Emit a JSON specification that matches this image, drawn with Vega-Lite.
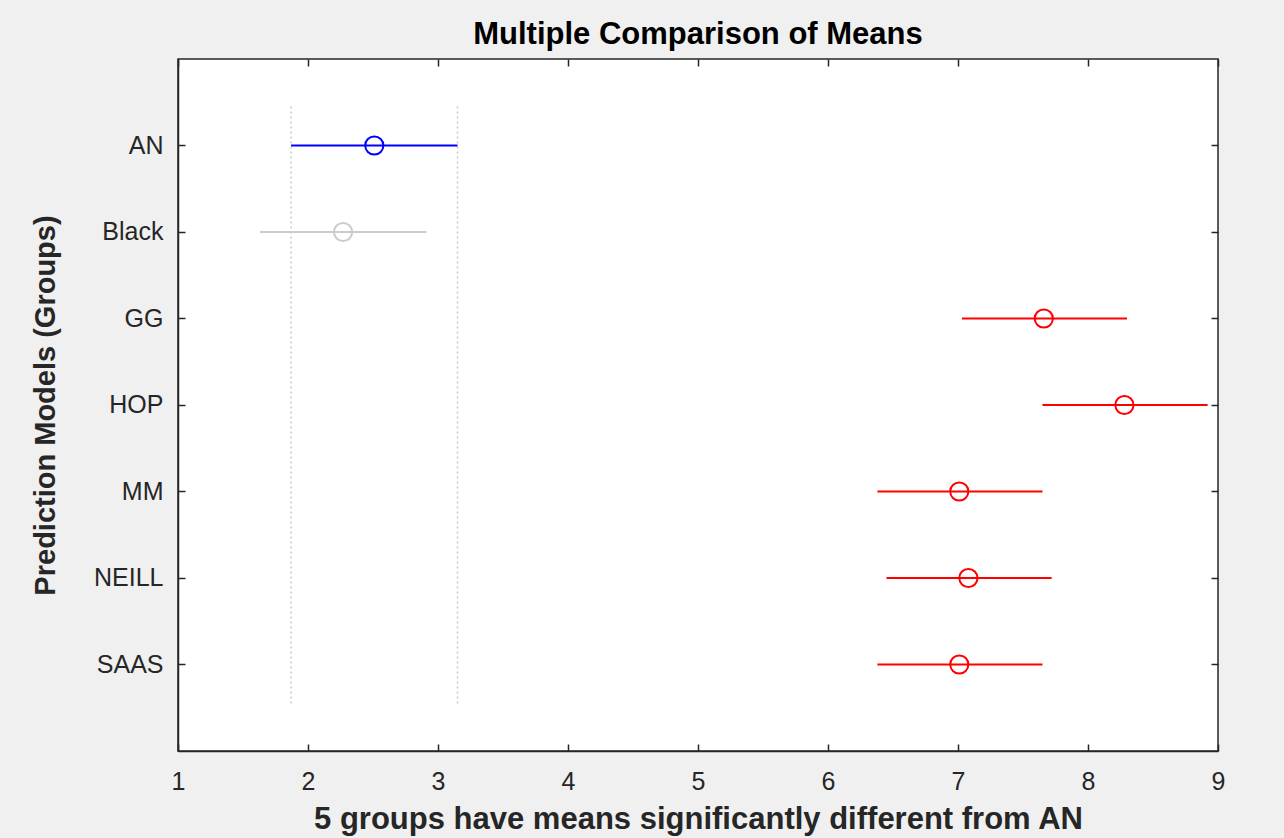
{
  "$schema": "https://vega.github.io/schema/vega-lite/v6.json",
  "width": 1040,
  "height": 692,
  "autosize": {"type": "none"},
  "padding": {"left": 178, "top": 59, "right": 66, "bottom": 87},
  "background": "#f0f0f0",
  "title": {
    "text": "Multiple Comparison of Means",
    "font": "Liberation Sans",
    "fontSize": 31,
    "fontWeight": "bold",
    "color": "#000000",
    "anchor": "middle",
    "offset": 7
  },
  "config": {
    "view": {"stroke": "#262626", "strokeWidth": 1.5, "fill": "#ffffff"},
    "axis": {
      "labelFont": "Liberation Sans",
      "titleFont": "Liberation Sans",
      "labelFontSize": 25,
      "labelColor": "#262626",
      "titleFontSize": 29,
      "titleFontWeight": "bold",
      "titleColor": "#262626",
      "domainColor": "#262626",
      "domainWidth": 1.5,
      "tickColor": "#262626",
      "tickWidth": 1.5,
      "tickSize": -7,
      "grid": false
    }
  },
  "data": {
    "values": [
      {"group": "AN", "mean": 2.51, "lo": 1.87, "hi": 3.15, "status": "selected"},
      {"group": "Black", "mean": 2.27, "lo": 1.63, "hi": 2.91, "status": "not significant"},
      {"group": "GG", "mean": 7.66, "lo": 7.03, "hi": 8.30, "status": "significant"},
      {"group": "HOP", "mean": 8.28, "lo": 7.65, "hi": 8.92, "status": "significant"},
      {"group": "MM", "mean": 7.01, "lo": 6.38, "hi": 7.65, "status": "significant"},
      {"group": "NEILL", "mean": 7.08, "lo": 6.45, "hi": 7.72, "status": "significant"},
      {"group": "SAAS", "mean": 7.01, "lo": 6.38, "hi": 7.65, "status": "significant"}
    ]
  },
  "layer": [
    {
      "transform": [
        {"filter": "datum.group === 'AN'"},
        {"fold": ["lo", "hi"], "as": ["bound", "limit"]}
      ],
      "mark": {"type": "rule", "color": "#c8c8c8", "strokeWidth": 1.5, "strokeDash": [2, 3]},
      "encoding": {
        "x": {"field": "limit", "type": "quantitative", "scale": {"domain": [1, 9], "nice": false, "zero": false}, "axis": null},
        "y": {"datum": "AN", "type": "nominal", "bandPosition": 0.05, "axis": null},
        "y2": {"datum": "SAAS", "bandPosition": 0.95}
      }
    },
    {
      "mark": {"type": "rule", "strokeWidth": 2},
      "encoding": {
        "x": {
          "field": "lo", "type": "quantitative",
          "scale": {"domain": [1, 9], "nice": false, "zero": false},
          "axis": {"values": [1, 2, 3, 4, 5, 6, 7, 8, 9], "title": "5 groups have means significantly different from AN", "labelPadding": 25, "labelFlush": false, "titlePadding": 10, "titleFontSize": 31}
        },
        "x2": {"field": "hi"},
        "y": {
          "field": "group", "type": "nominal",
          "scale": {"type": "band", "domain": ["AN", "Black", "GG", "HOP", "MM", "NEILL", "SAAS"], "paddingInner": 0, "paddingOuter": 0.5},
          "axis": {"title": "Prediction Models (Groups)", "labelPadding": 22, "titlePadding": 33}
        },
        "color": {
          "field": "status", "type": "nominal",
          "scale": {"domain": ["selected", "not significant", "significant"], "range": ["#0000ff", "#cccccc", "#ff0000"]},
          "legend": null
        }
      }
    },
    {
      "mark": {"type": "point", "shape": "circle", "filled": false, "size": 330, "strokeWidth": 2, "opacity": 1},
      "encoding": {
        "x": {"field": "mean", "type": "quantitative", "axis": {"orient": "top", "values": [1, 2, 3, 4, 5, 6, 7, 8, 9], "labels": false, "title": null, "domain": false}},
        "y": {"field": "group", "type": "nominal", "axis": {"orient": "right", "labels": false, "title": null, "domain": false}},
        "color": {"field": "status", "type": "nominal", "legend": null}
      }
    }
  ],
  "resolve": {"axis": {"x": "independent", "y": "independent"}}
}
